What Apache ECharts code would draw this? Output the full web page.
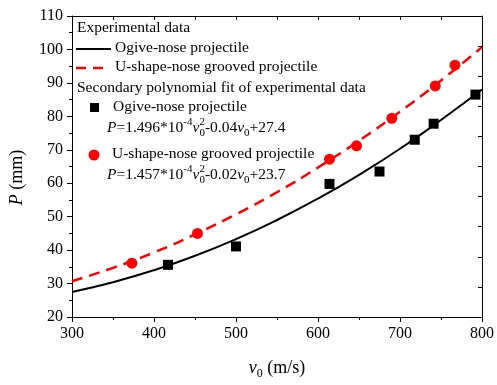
<!DOCTYPE html>
<html>
<head>
<meta charset="utf-8">
<script src="https://cdn.jsdelivr.net/npm/echarts@6/dist/echarts.min.js"></script>
<style>
  html, body { margin: 0; padding: 0; background: #fff; }
  #chart { width: 497px; height: 385px; }
</style>
</head>
<body>
<div id="chart"></div>
<script>
// fitted curves
const fitVelocity = [300, 350, 400, 450, 500, 550, 600, 650, 700, 750, 800];
const ogiveFit = [27.5, 30.4, 34.0, 38.3, 43.3, 49.0, 55.4, 62.5, 70.3, 78.9, 88.0];
const uShapeFit = [30.7, 34.7, 39.3, 44.7, 50.7, 57.3, 64.7, 72.7, 81.4, 90.7, 100.7];

// experimental points
const ogiveVelocity = [417, 500, 614, 675, 718, 741, 792];
const ogiveDepth = [35.6, 41.1, 59.8, 63.5, 73.0, 77.8, 86.5];
const uShapeVelocity = [373, 453, 614, 647, 690, 743, 767];
const uShapeDepth = [36.1, 45.0, 67.2, 71.2, 79.4, 89.1, 95.3];

const font = 'Liberation Serif, Times New Roman, serif';
const pair = (xs, ys) => xs.map((x, i) => [x, ys[i]]);

const myChart = echarts.init(document.getElementById('chart'));

// rich styles for the equations (s0 has no width so the 2 sits above it)
const eqRich = {
    n: { fontFamily: font, fontSize: 15.5, color: '#000', lineHeight: 22, verticalAlign: 'middle' },
    i: { fontFamily: font, fontSize: 15.5, color: '#000', fontStyle: 'italic', lineHeight: 22, verticalAlign: 'middle' },
    sup: { fontFamily: font, fontSize: 11, color: '#000', lineHeight: 10, verticalAlign: 'top' },
    s0: { fontFamily: font, fontSize: 11, color: '#000', lineHeight: 10, verticalAlign: 'bottom', width: 0 },
    sub: { fontFamily: font, fontSize: 11, color: '#000', lineHeight: 10, verticalAlign: 'bottom' }
};
const txt = (x, y, s, rich) => ({
    type: 'text', left: x, top: y,
    style: { text: s, fontFamily: font, fontSize: 15.5, fill: '#000', rich: rich }
});

myChart.setOption({
    backgroundColor: '#fff',
    animation: false,
    grid: { left: 71, right: 10, top: 16, bottom: 59 },
    xAxis: [
        {
            type: 'value', min: 300, max: 800, interval: 100,
            name: '{i|v}{s|0} (m/s)', nameLocation: 'middle', nameGap: 39,
            nameTextStyle: {
                fontFamily: font, fontSize: 18, color: '#000',
                rich: {
                    i: { fontFamily: font, fontSize: 18, fontStyle: 'italic', color: '#000', lineHeight: 24, verticalAlign: 'middle' },
                    s: { fontFamily: font, fontSize: 12, color: '#000', lineHeight: 12, verticalAlign: 'bottom' }
                }
            },
            axisLine: { lineStyle: { color: '#000', width: 1 } },
            axisTick: { inside: false, length: 5, lineStyle: { color: '#000' } },
            minorTick: { show: true, splitNumber: 2, length: 3, lineStyle: { color: '#000' } },
            axisLabel: { fontFamily: font, fontSize: 16, color: '#000', margin: 9 },
            splitLine: { show: false }
        },
        {
            type: 'value', position: 'top', min: 300, max: 800, interval: 50,
            axisLine: { lineStyle: { color: '#000', width: 1 } },
            axisTick: { inside: true, length: 4, lineStyle: { color: '#000' } },
            axisLabel: { show: false },
            splitLine: { show: false }
        }
    ],
    yAxis: [
        {
            type: 'value', min: 20, max: 110, interval: 10,
            name: '{i|P} (mm)', nameLocation: 'middle', nameGap: 46,
            nameTextStyle: {
                fontFamily: font, fontSize: 18, color: '#000', padding: [0, 22, 0, 0],
                rich: { i: { fontFamily: font, fontSize: 18, fontStyle: 'italic', color: '#000' } }
            },
            axisLine: { show: true, lineStyle: { color: '#000', width: 1 } },
            axisTick: { show: true, inside: false, length: 5, lineStyle: { color: '#000' } },
            minorTick: { show: true, splitNumber: 2, length: 3, lineStyle: { color: '#000' } },
            axisLabel: { fontFamily: font, fontSize: 16, color: '#000', margin: 9 },
            splitLine: { show: false }
        },
        {
            type: 'value', position: 'right', min: 0, max: 10, interval: 1,
            axisLine: { show: true, lineStyle: { color: '#000', width: 1 } },
            axisTick: { show: true, inside: true, length: 4, lineStyle: { color: '#000' } },
            axisLabel: { show: false },
            splitLine: { show: false }
        }
    ],
    series: [
        {
            type: 'line', smooth: true, symbol: 'none', data: pair(fitVelocity, ogiveFit),
            lineStyle: { color: '#000', width: 2 }, z: 2
        },
        {
            type: 'line', smooth: true, symbol: 'none', data: pair(fitVelocity, uShapeFit),
            lineStyle: { color: '#ff0000', width: 2.5, type: [11, 7] }, z: 2
        },
        {
            type: 'scatter', symbol: 'rect', symbolSize: 10, data: pair(ogiveVelocity, ogiveDepth),
            itemStyle: { color: '#000', opacity: 1 }, z: 3
        },
        {
            type: 'scatter', symbol: 'circle', symbolSize: 11, data: pair(uShapeVelocity, uShapeDepth),
            itemStyle: { color: '#ff0000', opacity: 1 }, z: 3
        }
    ],
    graphic: [
        txt(77, 20, 'Experimental data'),
        { type: 'line', shape: { x1: 76, y1: 49, x2: 111, y2: 49 }, style: { stroke: '#000', lineWidth: 2 } },
        txt(115, 40, 'Ogive-nose projectile'),
        { type: 'line', shape: { x1: 76, y1: 68, x2: 107, y2: 68 }, style: { stroke: '#ff0000', lineWidth: 2.5, lineDash: [10, 7] } },
        txt(115, 59, 'U-shape-nose grooved projectile'),
        txt(77, 80, 'Secondary polynomial fit of experimental data'),
        { type: 'rect', shape: { x: 90, y: 103, width: 9, height: 9 }, style: { fill: '#000' } },
        txt(113, 99, 'Ogive-nose projectile'),
        txt(107, 117, '{i|P}{n|=1.496*10}{sup|-4}{i|v}{s0|0}{sup|2}{n|-0.04}{i|v}{sub|0}{n|+27.4}', eqRich),
        { type: 'circle', shape: { cx: 94, cy: 155, r: 5.5 }, style: { fill: '#ff0000' } },
        txt(112, 146, 'U-shape-nose grooved projectile'),
        txt(107, 164, '{i|P}{n|=1.457*10}{sup|-4}{i|v}{s0|0}{sup|2}{n|-0.02}{i|v}{sub|0}{n|+23.7}', eqRich)
    ]
});
</script>
</body>
</html>
